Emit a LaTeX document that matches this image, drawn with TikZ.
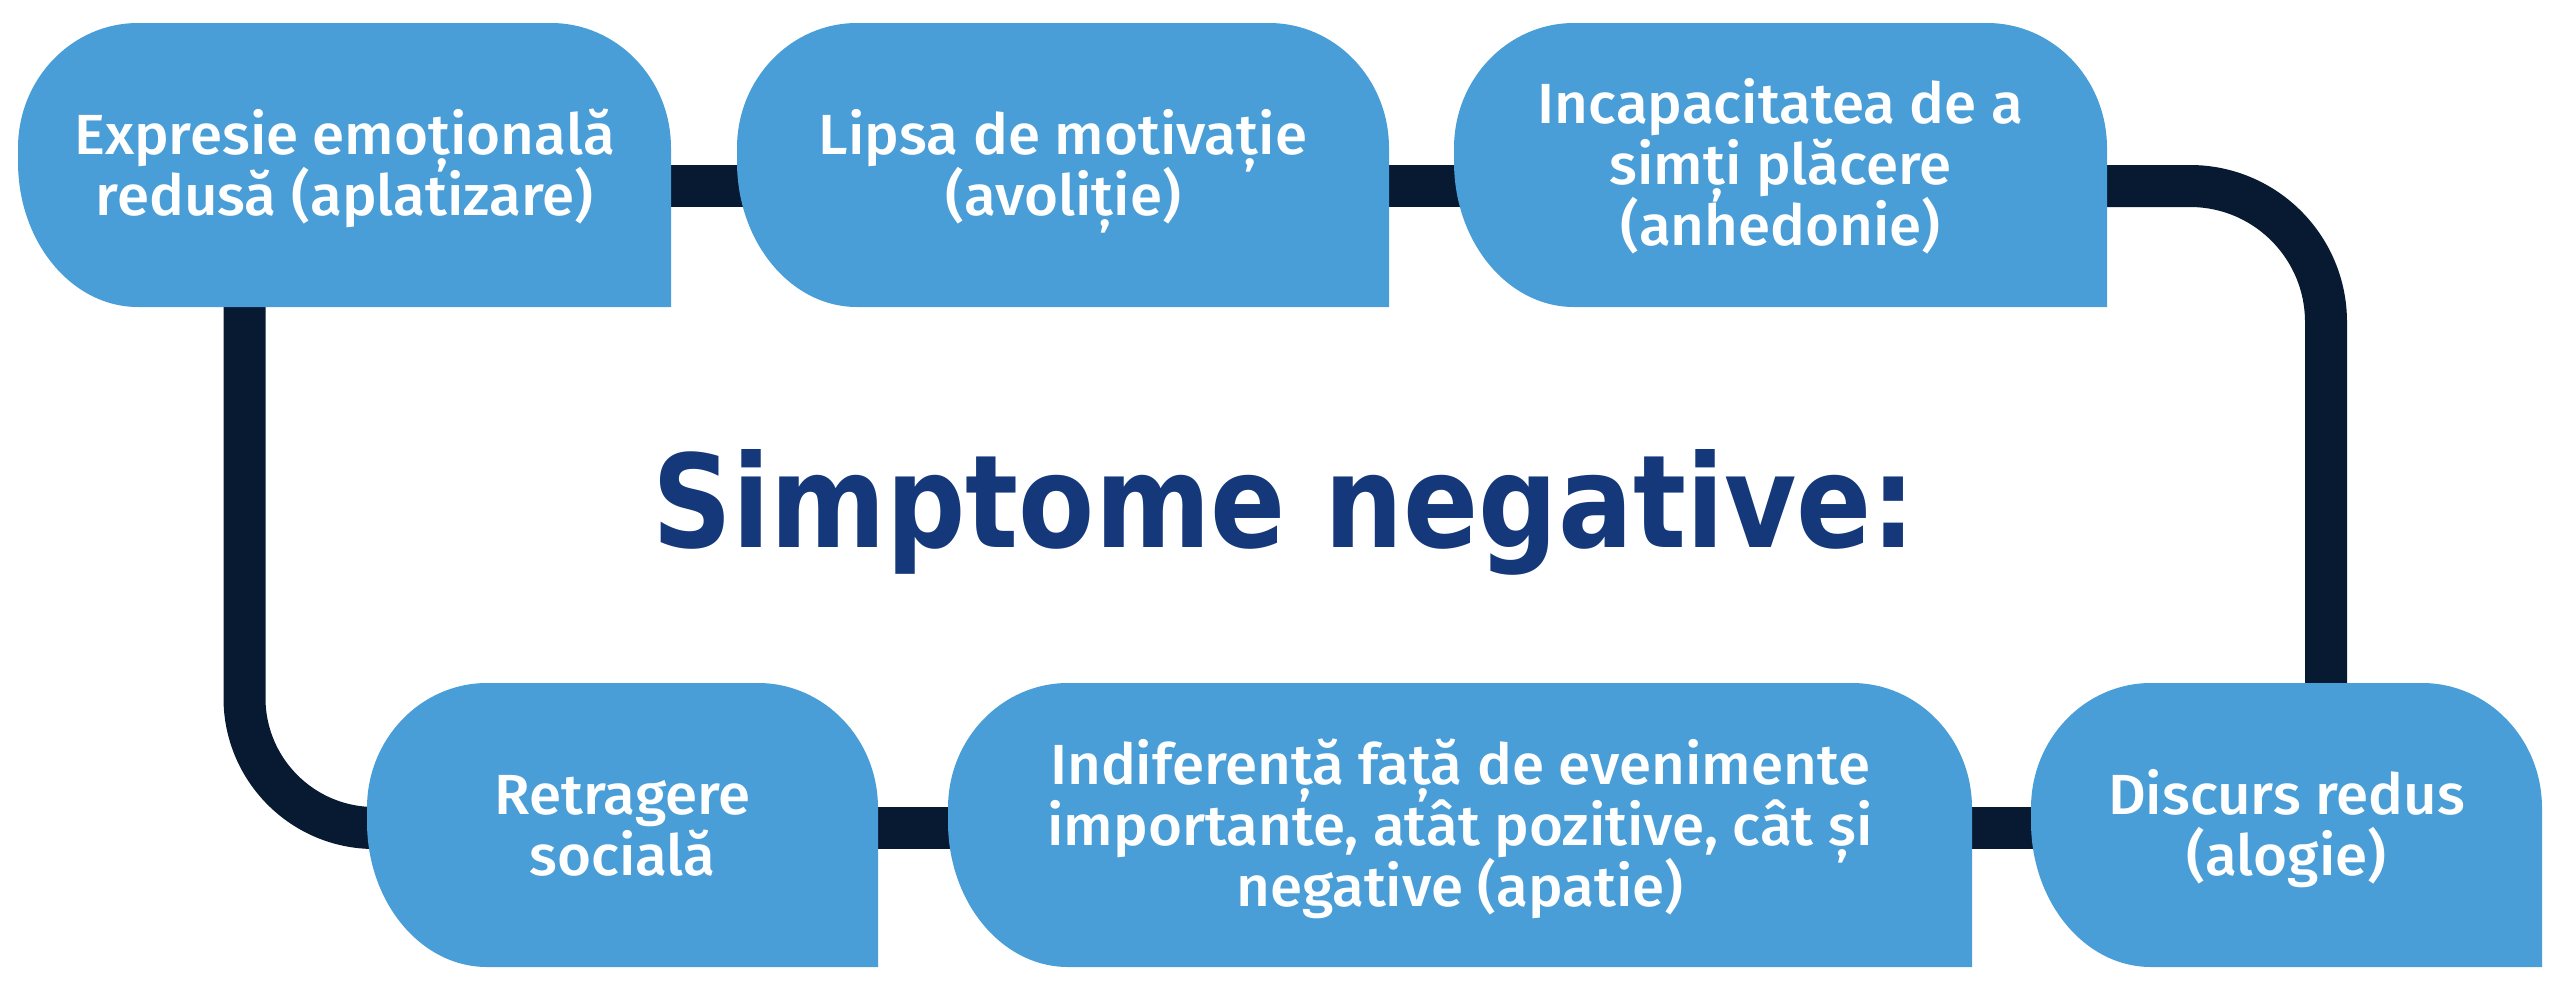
\documentclass[tikz,border=0pt]{standalone}
\usepackage{fontspec}
\IfFontExistsTF{Fira Sans Medium}{\newfontfamily\boxfont{Fira Sans Medium}[FakeStretch=1.03]}{\newfontfamily\boxfont{Fira Sans}[FakeBold=1,FakeStretch=1.03]}
\newfontfamily\titlefont{DejaVu Sans Bold}[FakeStretch=0.86]
\definecolor{boxblue}{RGB}{74,158,215}
\definecolor{navy}{RGB}{8,25,50}
\definecolor{titleblue}{RGB}{20,56,122}
\newcommand\boxline[1]{\hbox to 0pt{\hss#1\hss}}
\newcommand\boxtext[1]{\vtop{\baselineskip=61pt\lineskiplimit=-1000pt\lineskip=0pt #1}}
\newcommand\symbox[4]{%
  \fill[sbox] (#1,#2+125) arc[start angle=180,end angle=270,x radius=120,y radius=125]
    -- (#3-120,#2) arc[start angle=270,end angle=360,x radius=120,y radius=125]
    -- (#3,#4) -- (#1+120,#4) arc[start angle=90,end angle=180,x radius=120,y radius=145]
    -- cycle;}
\tikzset{
  sbox/.style={fill=boxblue},
  conn/.style={draw=navy, line width=42pt},
  btext/.style={text=white, anchor=base, inner sep=0pt,
    font=\boxfont\fontsize{56.6pt}{61pt}\selectfont},
}
\begin{document}
\begin{tikzpicture}[x=1pt,y=-1pt]
\useasboundingbox (0,0) rectangle (2560,986);
% connector end points
\coordinate (c1r) at (650,186);
\coordinate (c2l) at (760,186);
\coordinate (c2r) at (1370,186);
\coordinate (c3l) at (1475,186);
\coordinate (c3r) at (2090,186);
\coordinate (c4t) at (2326,700);
\coordinate (c4l) at (2050,828);
\coordinate (c5r) at (1950,828);
\coordinate (c5l) at (970,828);
\coordinate (c6r) at (860,828);
\coordinate (c6l) at (390,828);
\coordinate (c1b) at (244.5,290);
% connectors
\draw[conn] (c1r) -- (c2l);
\draw[conn] (c2r) -- (c3l);
\draw[conn, rounded corners=136pt] (c3r) -| (c4t);
\draw[conn] (c4l) -- (c5r);
\draw[conn] (c5l) -- (c6r);
\draw[conn, rounded corners=130pt] (c6l) -| (c1b);
% boxes
\symbox{18}{23}{671}{307}
\symbox{737}{23}{1389}{307}
\symbox{1454}{23}{2107}{307}
\symbox{2031}{683}{2542}{967}
\symbox{948}{683}{1972}{967}
\symbox{367}{683}{878}{967}
% texts
\node[btext] (b1) at (344.5,154) {\boxtext{\boxline{Expresie emoțională}\boxline{redusă (aplatizare)}}};
\node[btext] (b2) at (1063,154) {\boxtext{\boxline{Lipsa de motivație}\boxline{(avoliție)}}};
\node[btext] (b3) at (1780.5,123) {\boxtext{\boxline{Incapacitatea de a}\boxline{simți plăcere}\boxline{(anhedonie)}}};
\node[btext] (b4) at (2286.5,814) {\boxtext{\boxline{Discurs redus}\boxline{(alogie)}}};
\node[btext] (b5) at (1460,784) {\boxtext{\boxline{Indiferență față de evenimente}\boxline{importante, atât pozitive, cât și}\boxline{negative (apatie)}}};
\node[btext] (b6) at (622.5,814) {\boxtext{\boxline{Retragere}\boxline{socială}}};
\node[anchor=base, inner sep=0pt, text=titleblue, font=\titlefont\fontsize{129pt}{140pt}\selectfont] (title) at (1284.5,547) {Simptome negative:};
\end{tikzpicture}
\end{document}
